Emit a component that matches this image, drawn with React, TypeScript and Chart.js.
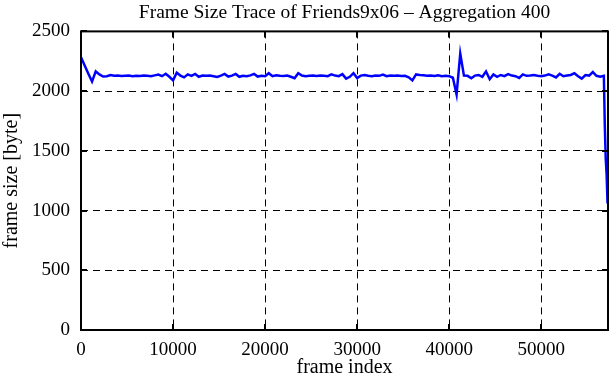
import React, { useEffect, useRef } from "react";
import { Chart, registerables } from "chart.js";

Chart.register(...registerables);

const TITLE = "Frame Size Trace of Friends9x06 – Aggregation 400";
const X_LABEL = "frame index";
const Y_LABEL = "frame size [byte]";
const AGGREGATION = 400;
const X_MAX = 57250;
const Y_MAX = 2500;
const X_TICKS = [0, 10000, 20000, 30000, 40000, 50000];
const Y_TICKS = [0, 500, 1000, 1500, 2000, 2500];

// aggregated frame sizes, one value every AGGREGATION frames starting at frame 0
const FRAME_SIZES = [
  2283, 2215, 2145, 2080, 2165, 2140, 2122, 2125, 2135, 2128,
  2130, 2126, 2128, 2130, 2125, 2128, 2126, 2130, 2128, 2125,
  2132, 2138, 2125, 2145, 2120, 2090, 2155, 2130, 2115, 2140,
  2128, 2144, 2120, 2130, 2128, 2130, 2125, 2118, 2130, 2144,
  2122, 2130, 2144, 2120, 2128, 2125, 2132, 2144, 2122, 2128,
  2125, 2150, 2125, 2132, 2128, 2126, 2130, 2120, 2108, 2150,
  2130, 2125, 2128, 2130, 2126, 2130, 2128, 2125, 2140, 2130,
  2125, 2142, 2105, 2120, 2150, 2110, 2130, 2135, 2128, 2125,
  2130, 2128, 2138, 2125, 2130, 2128, 2130, 2126, 2128, 2115,
  2090, 2140, 2135, 2132, 2128, 2130, 2126, 2132, 2125, 2128,
  2125, 2112, 1972, 2315, 2130, 2128, 2108, 2130, 2135, 2120,
  2165, 2100, 2140, 2120, 2135, 2125, 2142, 2130, 2125, 2110,
  2140, 2128, 2130, 2135, 2128, 2125, 2130, 2140, 2130, 2115,
  2145, 2125, 2130, 2135, 2150, 2125, 2105, 2135, 2130, 2160,
  2128, 2120, 2128,
];

// final partial aggregation points at the end of the trace
const TAIL_FRAMES = [56900, 57000, 57100, 57200];
const TAIL_SIZES = [1720, 1440, 1300, 1060];

const FONT = "'Liberation Serif', 'Times New Roman', Times, serif";

const framePlugin = {
  id: "gnuplotFrame",
  afterDraw(chart: any) {
    const { ctx, chartArea, scales } = chart;
    const { left, right, top, bottom } = chartArea;
    const tl = 6;
    ctx.save();
    ctx.strokeStyle = "#000";
    ctx.lineWidth = 2;
    ctx.setLineDash([]);
    ctx.beginPath();
    scales.x.ticks.forEach((t: any) => {
      const px = Math.round(scales.x.getPixelForValue(t.value));
      ctx.moveTo(px, bottom);
      ctx.lineTo(px, bottom - tl);
      ctx.moveTo(px, top);
      ctx.lineTo(px, top + tl);
    });
    scales.y.ticks.forEach((t: any) => {
      const py = Math.round(scales.y.getPixelForValue(t.value));
      ctx.moveTo(left, py);
      ctx.lineTo(left + tl, py);
      ctx.moveTo(right, py);
      ctx.lineTo(right - tl, py);
    });
    ctx.stroke();
    ctx.strokeRect(left, top, right - left, bottom - top);
    ctx.restore();
  },
};

export default function App() {
  const canvasRef = useRef<HTMLCanvasElement | null>(null);

  useEffect(() => {
    const canvas = canvasRef.current;
    if (!canvas) return;
    const points = [
      ...FRAME_SIZES.map((v, i) => ({ x: i * AGGREGATION, y: v })),
      ...TAIL_FRAMES.map((f, i) => ({ x: f, y: TAIL_SIZES[i] })),
    ];
    const chart = new Chart(canvas, {
      type: "line",
      data: {
        datasets: [
          {
            data: points,
            borderColor: "#0000ff",
            borderWidth: 2.5,
            pointRadius: 0,
            fill: false,
            tension: 0,
          },
        ],
      },
      options: {
        animation: false,
        responsive: false,
        devicePixelRatio: 1,
        layout: { padding: { left: 0, right: 3, top: 0, bottom: 0 } },
        plugins: {
          legend: { display: false },
          tooltip: { enabled: false },
          title: {
            display: true,
            fullSize: false,
            text: TITLE,
            color: "#000",
            font: { family: FONT, size: 19.5, weight: "normal" },
            padding: { top: 1, bottom: 7 },
          },
        },
        scales: {
          x: {
            type: "linear",
            min: 0,
            max: X_MAX,
            afterFit: (s: any) => {
              s.height = 50;
            },
            afterBuildTicks: (s: any) => {
              s.ticks = X_TICKS.map((v) => ({ value: v }));
            },
            ticks: {
              color: "#000",
              padding: 9,
              maxRotation: 0,
              autoSkip: false,
              font: { family: FONT, size: 19 },
              callback: (v: any) => String(v),
            },
            grid: { color: "#000", lineWidth: 1, drawTicks: false },
            border: { display: false, dash: [7, 5] },
            title: {
              display: true,
              text: X_LABEL,
              color: "#000",
              font: { family: FONT, size: 20 },
              padding: { top: 0, bottom: 0 },
            },
          },
          y: {
            type: "linear",
            min: 0,
            max: Y_MAX,
            afterFit: (s: any) => {
              s.width = 81;
            },
            afterBuildTicks: (s: any) => {
              s.ticks = Y_TICKS.map((v) => ({ value: v }));
            },
            ticks: {
              color: "#000",
              padding: 11,
              autoSkip: false,
              font: { family: FONT, size: 19 },
              callback: (v: any) => String(v),
            },
            grid: { color: "#000", lineWidth: 1, drawTicks: false },
            border: { display: false, dash: [7, 5] },
            title: {
              display: true,
              text: Y_LABEL,
              color: "#000",
              font: { family: FONT, size: 20 },
              padding: { top: 0, bottom: 0 },
            },
          },
        },
      },
      plugins: [framePlugin],
    });
    return () => chart.destroy();
  }, []);

  return (
    <div style={{ position: "absolute", left: 0, top: 0, width: 611, height: 380, background: "#fff" }}>
      <canvas ref={canvasRef} width={611} height={380} style={{ display: "block" }} />
    </div>
  );
}
